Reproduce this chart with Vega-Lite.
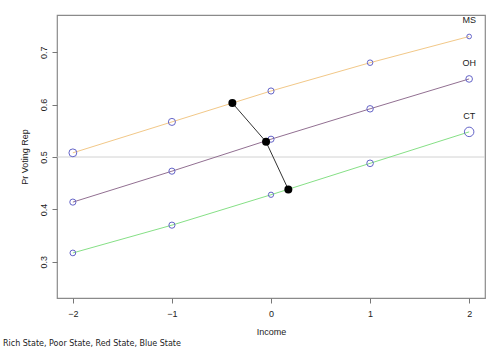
{
  "$schema": "https://vega.github.io/schema/vega-lite/v6.json",
  "width": 428,
  "height": 283,
  "autosize": {"type": "none"},
  "padding": {"left": 57, "top": 15, "right": 15, "bottom": 55},
  "background": "white",
  "config": {
    "view": {"stroke": "#8a8a8a", "strokeWidth": 1.2},
    "font": "Liberation Sans",
    "axis": {"grid": false, "domain": false, "tickColor": "#777", "tickSize": 5, "labelColor": "#222", "labelFontSize": 9, "titleFontSize": 9, "titleFontWeight": "normal", "titleColor": "#222"}
  },
  "title": {
    "text": "Rich State, Poor State, Red State, Blue State",
    "orient": "bottom",
    "anchor": "start",
    "frame": "group",
    "dx": -54,
    "dy": 12,
    "offset": 0,
    "baseline": "bottom",
    "fontSize": 8,
    "fontWeight": "normal",
    "color": "#222",
    "font": "DejaVu Sans"
  },
  "datasets": {
    "states": [
      {"state": "MS", "income": -2, "pr": 0.508, "weight": 62},
      {"state": "MS", "income": -1, "pr": 0.567, "weight": 50},
      {"state": "MS", "income": 0, "pr": 0.626, "weight": 38},
      {"state": "MS", "income": 1, "pr": 0.680, "weight": 31},
      {"state": "MS", "income": 2, "pr": 0.730, "weight": 22},
      {"state": "OH", "income": -2, "pr": 0.414, "weight": 38},
      {"state": "OH", "income": -1, "pr": 0.473, "weight": 38},
      {"state": "OH", "income": 0, "pr": 0.534, "weight": 38},
      {"state": "OH", "income": 1, "pr": 0.592, "weight": 42},
      {"state": "OH", "income": 2, "pr": 0.649, "weight": 44},
      {"state": "CT", "income": -2, "pr": 0.317, "weight": 33},
      {"state": "CT", "income": -1, "pr": 0.370, "weight": 38},
      {"state": "CT", "income": 0, "pr": 0.428, "weight": 28},
      {"state": "CT", "income": 1, "pr": 0.488, "weight": 44},
      {"state": "CT", "income": 2, "pr": 0.548, "weight": 90}
    ],
    "avg": [
      {"order": 1, "income": -0.39, "pr": 0.603},
      {"order": 2, "income": -0.05, "pr": 0.529},
      {"order": 3, "income": 0.175, "pr": 0.438}
    ],
    "ref": [{"pr": 0.5}]
  },
  "layer": [
    {
      "data": {"name": "ref"},
      "mark": {"type": "rule", "color": "#d2d2d2", "strokeWidth": 1},
      "encoding": {
        "y": {"field": "pr", "type": "quantitative", "scale": {"domain": [0.231, 0.771], "nice": false, "zero": false},
              "axis": {"title": "Pr Voting Rep", "values": [0.3, 0.4, 0.5, 0.6, 0.7], "format": ".1f", "labelAngle": -90, "labelAlign": "center", "labelBaseline": "bottom", "labelPadding": 4, "titlePadding": 10}}
      }
    },
    {
      "data": {"name": "states"},
      "mark": {"type": "line", "strokeWidth": 1},
      "encoding": {
        "x": {"field": "income", "type": "quantitative", "scale": {"domain": [-2.16, 2.16], "nice": false, "zero": false},
              "axis": {"title": "Income", "values": [-2, -1, 0, 1, 2], "format": "d", "labelPadding": 6, "titlePadding": 9}},
        "y": {"field": "pr", "type": "quantitative"},
        "color": {"field": "state", "type": "nominal", "legend": null,
                  "scale": {"domain": ["MS", "OH", "CT"], "range": ["#f2c888", "#927092", "#86e086"]}}
      }
    },
    {
      "data": {"name": "states"},
      "mark": {"type": "point", "shape": "circle", "filled": false, "stroke": "#6464c8", "strokeWidth": 1, "opacity": 1},
      "encoding": {
        "x": {"field": "income", "type": "quantitative"},
        "y": {"field": "pr", "type": "quantitative"},
        "size": {"field": "weight", "type": "quantitative", "legend": null, "scale": {"type": "linear", "domain": [0, 100], "range": [0, 100]}}
      }
    },
    {
      "data": {"name": "states"},
      "transform": [{"filter": "datum.income == 2"}],
      "mark": {"type": "text", "dy": -16, "fontSize": 9, "color": "#222"},
      "encoding": {
        "x": {"field": "income", "type": "quantitative"},
        "y": {"field": "pr", "type": "quantitative"},
        "text": {"field": "state", "type": "nominal"}
      }
    },
    {
      "data": {"name": "avg"},
      "mark": {"type": "line", "color": "#333", "strokeWidth": 1},
      "encoding": {
        "x": {"field": "income", "type": "quantitative"},
        "y": {"field": "pr", "type": "quantitative"},
        "order": {"field": "order", "type": "quantitative"}
      }
    },
    {
      "data": {"name": "avg"},
      "mark": {"type": "point", "shape": "circle", "filled": true, "color": "#000", "opacity": 1, "size": 64},
      "encoding": {
        "x": {"field": "income", "type": "quantitative"},
        "y": {"field": "pr", "type": "quantitative"}
      }
    }
  ]
}
